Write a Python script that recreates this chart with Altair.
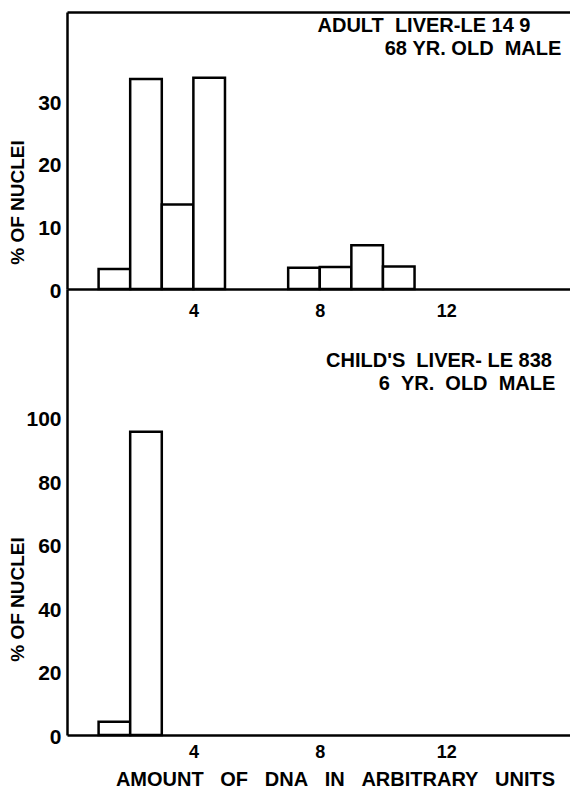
import altair as alt
import pandas as pd

# ---- data ----
top_bin_start = [1, 2, 3, 4, 7, 8, 9, 10]
top_bin_end = [2, 3, 4, 5, 8, 9, 10, 11]
top_pct = [3.2, 33.6, 13.5, 33.8, 3.4, 3.5, 7.0, 3.6]

bot_bin_start = [1, 2]
bot_bin_end = [2, 3]
bot_pct = [4.2, 95.6]

x_ticks = [4, 8, 12]
top_y_ticks = [0, 10, 20, 30]
bot_y_ticks = [0, 20, 40, 60, 80, 100]

NB = "\u00a0"
top_label = ["ADULT" + NB * 2 + "LIVER-LE" + NB + "14" + NB + "9", "68" + NB + "YR." + NB + "OLD" + NB * 2 + "MALE"]
bot_label = ["CHILD'S" + NB * 2 + "LIVER-" + NB + "LE" + NB + "838", "6" + NB * 2 + "YR." + NB * 2 + "OLD" + NB * 2 + "MALE"]
y_title = "% OF NUCLEI"
x_title = (NB * 3).join(["AMOUNT", "OF", "DNA", "IN", "ARBITRARY", "UNITS"])

# ---- layout ----
FONT = "Liberation Sans"
W = 503
TOP_H = 277
BOT_H = 446
XDOM = [0, 15.92]
SW = 2.5

top_df = pd.DataFrame({"start": top_bin_start, "end": top_bin_end, "pct": top_pct})
bot_df = pd.DataFrame({"start": bot_bin_start, "end": bot_bin_end, "pct": bot_pct})

xscale = alt.Scale(domain=XDOM, nice=False, zero=False)


def ytitle_axis(values, title_y):
    return alt.Axis(values=values, title=y_title, titleX=-50, titleY=title_y,
                    titleAngle=270, titleAlign="center", titleBaseline="middle",
                    titleFontSize=19, labelFontSize=21, labelPadding=6, labelOffset=2)


top_bars = alt.Chart(top_df).mark_rect(fill="white", stroke="black", strokeWidth=SW).encode(
    x=alt.X("start:Q", scale=xscale,
            axis=alt.Axis(orient="bottom", values=x_ticks, title=None,
                          labelFontSize=18, labelPadding=13)),
    x2="end:Q",
    y=alt.Y("pct:Q", scale=alt.Scale(domain=[0, 44.3], nice=False),
            axis=ytitle_axis(top_y_ticks, 190)),
    y2=alt.datum(0),
)

top_frame = alt.Chart(top_df).mark_point(opacity=0).encode(
    x=alt.X("start:Q", scale=xscale,
            axis=alt.Axis(orient="top", labels=False, title=None)),
)

TXT = dict(fontSize=20, fontWeight="bold", align="center", baseline="middle", color="black")

tdf1 = pd.DataFrame({"t": [top_label[0]]})
tdf2 = pd.DataFrame({"t": [top_label[1]]})
top_t1 = alt.Chart(tdf1).mark_text(**TXT).encode(x=alt.value(357), y=alt.value(14), text="t:N")
top_t2 = alt.Chart(tdf2).mark_text(**TXT).encode(x=alt.value(406), y=alt.value(37), text="t:N")

top = alt.layer(top_bars, top_frame, top_t1, top_t2).properties(width=W, height=TOP_H)

bot_bars = alt.Chart(bot_df).mark_rect(fill="white", stroke="black", strokeWidth=SW).encode(
    x=alt.X("start:Q", scale=xscale,
            axis=alt.Axis(orient="bottom", values=x_ticks, title=x_title,
                          labelFontSize=18, labelPadding=8,
                          titleFontSize=20, titleX=268, titleY=44,
                          titleBaseline="middle", titleAlign="center")),
    x2="end:Q",
    y=alt.Y("pct:Q", scale=alt.Scale(domain=[0, 140.6], nice=False),
            axis=ytitle_axis(bot_y_ticks, 310)),
    y2=alt.datum(0),
)

bdf1 = pd.DataFrame({"t": [bot_label[0]]})
bdf2 = pd.DataFrame({"t": [bot_label[1]]})
bot_t1 = alt.Chart(bdf1).mark_text(**TXT).encode(x=alt.value(372), y=alt.value(72), text="t:N")
bot_t2 = alt.Chart(bdf2).mark_text(**TXT).encode(x=alt.value(400), y=alt.value(95), text="t:N")

bottom = alt.layer(bot_bars, bot_t1, bot_t2).properties(width=W, height=BOT_H)

chart = alt.vconcat(top, bottom, spacing=0, bounds="flush").properties(
    padding={"left": 8, "top": 12, "right": 0, "bottom": 0}
).configure(font=FONT).configure_view(stroke=None).configure_axis(
    grid=False, ticks=False, domainColor="black", domainWidth=SW,
    labelColor="black", titleColor="black", labelFontWeight="bold",
    titleFontWeight="bold", labelFont=FONT, titleFont=FONT
)

chart.save("out.html", embed_options={"renderer": "svg", "actions": False})
